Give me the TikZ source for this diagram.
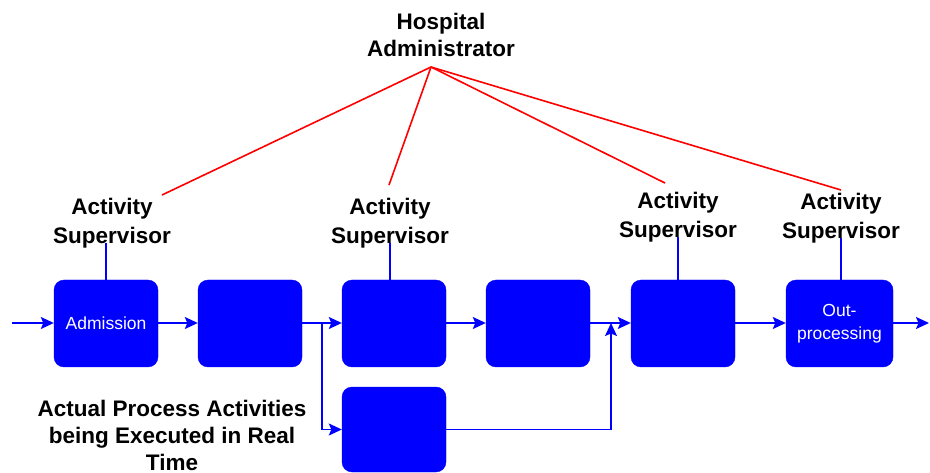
\documentclass[tikz,border=0pt]{standalone}
\usepackage{fontspec}
\setmainfont{Liberation Sans}
\usetikzlibrary{arrows.meta,calc}
\definecolor{pblue}{RGB}{0,0,255}
\definecolor{pred}{RGB}{255,0,0}
\tikzset{
  procbox/.style={rectangle, rounded corners=10pt, fill=pblue, draw=pblue, minimum width=104pt, minimum height=87pt, inner sep=0pt, text=white, align=center, font=\fontsize{17.5}{23}\selectfont},
  lbl/.style={align=center, font=\fontsize{22.5}{29}\selectfont\bfseries, inner sep=0pt},
  flow/.style={draw=pblue, line width=1.6pt, -{Stealth[length=13pt,width=12pt,inset=2.5pt]}},
  plain/.style={draw=pblue, line width=1.6pt},
  redline/.style={draw=pred, line width=1.6pt}
}
\begin{document}
\begin{tikzpicture}[x=1pt,y=-1pt]
\useasboundingbox (0,0) rectangle (930,473);
% boxes
\node[procbox] (b1) at (106,323.5) {Admission};
\node[procbox] (b2) at (250,323.5) {};
\node[procbox] (b3) at (394,323.5) {};
\node[procbox] (b4) at (538,323.5) {};
\node[procbox] (b5) at (683,323.5) {};
\node[procbox, minimum width=107pt] (b6) at (839.5,323.5) {Out-\\processing};
\node[procbox, minimum height=85pt] (b7) at (394,429.5) {};
% labels
\node[lbl, font=\fontsize{22.5}{27}\selectfont\bfseries] (adm) at (441,35) {Hospital\\Administrator};
\node[lbl] (s1) at (112,223) {Activity\\Supervisor};
\node[lbl] (s2) at (390,223) {Activity\\Supervisor};
\node[lbl] (s3) at (678,217) {Activity\\Supervisor};
\node[lbl] (s4) at (841,218) {Activity\\Supervisor};
\node[lbl, font=\fontsize{22.5}{27}\selectfont\bfseries] (act) at (172,435) {Actual Process Activities\\being Executed in Real\\Time};
% red lines
\coordinate (apex) at (431,67);
\coordinate (r1) at (162,195);
\coordinate (r2) at (389,185);
\coordinate (r3) at (665,183);
\coordinate (r4) at (841,190);
\draw[redline] (apex) -- (r1);
\draw[redline] (apex) -- (r2);
\draw[redline] (apex) -- (r3);
\draw[redline] (apex) -- (r4);
% supervisor lines
\coordinate (t1) at (106,243);
\coordinate (t2) at (390,243);
\coordinate (t3) at (678,237);
\coordinate (t4) at (841,238);
\draw[plain] (t1) -- (t1 |- b1.north);
\draw[plain] (t2) -- (t2 |- b3.north);
\draw[plain] (t3) -- (t3 |- b5.north);
\draw[plain] (t4) -- (t4 |- b6.north);
% flow
\coordinate (in) at (12,323);
\coordinate (out) at (929,323);
\coordinate (br) at (322,323);
\coordinate (mg) at (611,429.5);
\draw[flow] (in) -- (in -| b1.west);
\draw[flow] (b1.east |- in) -- (b2.west |- in);
\draw[flow] (b2.east |- in) -- (b3.west |- in);
\draw[flow] (br) |- (b7.west);
\draw[flow] (b3.east |- in) -- (b4.west |- in);
\draw[flow] (b4.east |- in) -- (b5.west |- in);
\draw[flow] (b7.east) -- (mg) -- (mg |- in);
\draw[flow] (b5.east |- in) -- (b6.west |- in);
\draw[flow] (b6.east |- in) -- (out);
\end{tikzpicture}
\end{document}
